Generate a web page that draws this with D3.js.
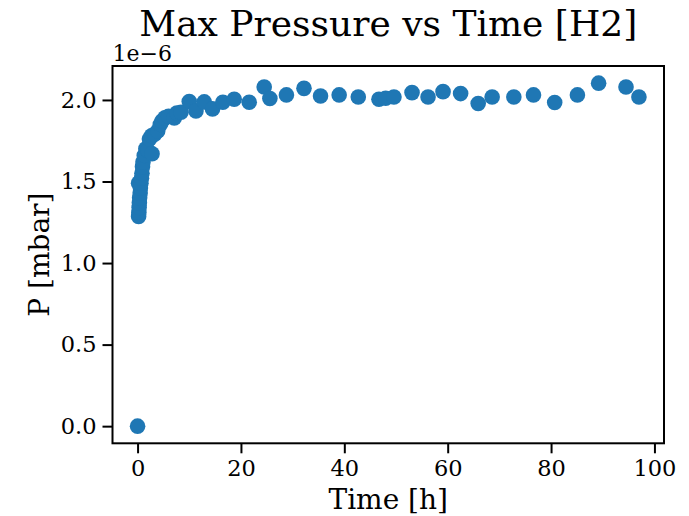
<!DOCTYPE html>
<html>
<head>
<meta charset="utf-8">
<script src="https://cdn.jsdelivr.net/npm/d3@7"></script>
<style>
  body { margin: 0; background: #fff; }
  text { font-family: "DejaVu Serif", serif; fill: #000; }
</style>
</head>
<body>
<svg id="chart" width="689" height="516"></svg>
<script>
// time in hours, max pressure in units of 1e-6 mbar
const time = [0, 0.2, 0.25, 0.3, 0.35, 0.4, 0.5, 0.55, 0.2, 0.65, 0.75, 0.85, 0.95, 1.05, 1.3, 1.6,
  2.0, 2.3, 2.8, 2.7, 3.3, 3.9, 4.4, 4.7, 5.3, 6.0, 7.1, 7.6, 8.4, 10.0, 11.3, 12.9, 14.5, 16.5,
  18.7, 21.6, 24.5, 25.6, 28.8, 32.2, 35.4, 39.0, 42.7, 46.7, 48.0, 49.6, 53.1, 56.2, 59.1, 62.5,
  65.9, 68.6, 72.8, 76.6, 80.7, 85.1, 89.2, 94.5, 97.0];
const pressure = [0, 1.285, 1.31, 1.34, 1.37, 1.40, 1.43, 1.46, 1.49, 1.49, 1.52, 1.55, 1.59, 1.62, 1.66, 1.70,
  1.69, 1.76, 1.67, 1.78, 1.79, 1.81, 1.85, 1.87, 1.89, 1.90, 1.89, 1.92, 1.925, 1.99, 1.933, 1.988, 1.945, 1.986,
  2.004, 1.986, 2.079, 2.009, 2.031, 2.071, 2.024, 2.031, 2.018, 2.004, 2.010, 2.018, 2.045, 2.018, 2.051, 2.039,
  1.978, 2.018, 2.018, 2.031, 1.984, 2.031, 2.103, 2.079, 2.018];
const xTicks = [0, 20, 40, 60, 80, 100];
const yTicks = [0, 0.5, 1.0, 1.5, 2.0];

const points = time.map((t, i) => ({t: t, p: pressure[i]}));

const svg = d3.select('#chart');
const margin = {left: 112.5, right: 25, top: 66, bottom: 72.7};
const width = 689 - margin.left - margin.right;
const height = 516 - margin.top - margin.bottom;

// matplotlib style 5% padding round the data
const xPad = 0.05 * (d3.max(time) - d3.min(time));
const yPad = 0.05 * (d3.max(pressure) - d3.min(pressure));
const x = d3.scaleLinear()
  .domain([d3.min(time) - xPad, d3.max(time) + xPad])
  .range([0, width]);
const y = d3.scaleLinear()
  .domain([d3.min(pressure) - yPad, d3.max(pressure) + yPad])
  .range([height, 0]);

const g = svg.append('g').attr('transform', `translate(${margin.left},${margin.top})`);

// points
g.selectAll('.dot')
  .data(points)
  .join('circle')
  .attr('class', 'dot')
  .attr('cx', d => x(d.t))
  .attr('cy', d => y(d.p))
  .attr('r', 7.8)
  .attr('fill', '#1f77b4');

// axes
const xAxis = g.append('g')
  .attr('transform', `translate(0,${height})`)
  .call(d3.axisBottom(x).tickValues(xTicks).tickSize(10).tickPadding(7).tickFormat(d3.format('d')));
const yAxis = g.append('g')
  .call(d3.axisLeft(y).tickValues(yTicks).tickSize(10).tickPadding(6).tickFormat(d3.format('.1f')));

[xAxis, yAxis].forEach(a => {
  a.select('.domain').remove();
  a.selectAll('.tick line').attr('stroke', '#000').attr('stroke-width', 2);
  a.selectAll('.tick text').style('font-size', '22.5px').attr('fill', '#000');
});

// frame
g.append('rect')
  .attr('width', width)
  .attr('height', height)
  .attr('fill', 'none')
  .attr('stroke', '#000')
  .attr('stroke-width', 2);

// labels
svg.append('text')
  .attr('x', margin.left + width / 2)
  .attr('y', 36)
  .attr('text-anchor', 'middle')
  .style('font-size', '36px')
  .text('Max Pressure vs Time [H2]');

svg.append('text')
  .attr('x', margin.left)
  .attr('y', 61)
  .style('font-size', '22px')
  .text('1e\u22126');

svg.append('text')
  .attr('x', margin.left + width / 2)
  .attr('y', 509)
  .attr('text-anchor', 'middle')
  .style('font-size', '28px')
  .text('Time [h]');

svg.append('text')
  .attr('transform', `translate(49,${margin.top + height / 2}) rotate(-90)`)
  .attr('text-anchor', 'middle')
  .style('font-size', '28px')
  .text('P [mbar]');
</script>
</body>
</html>
